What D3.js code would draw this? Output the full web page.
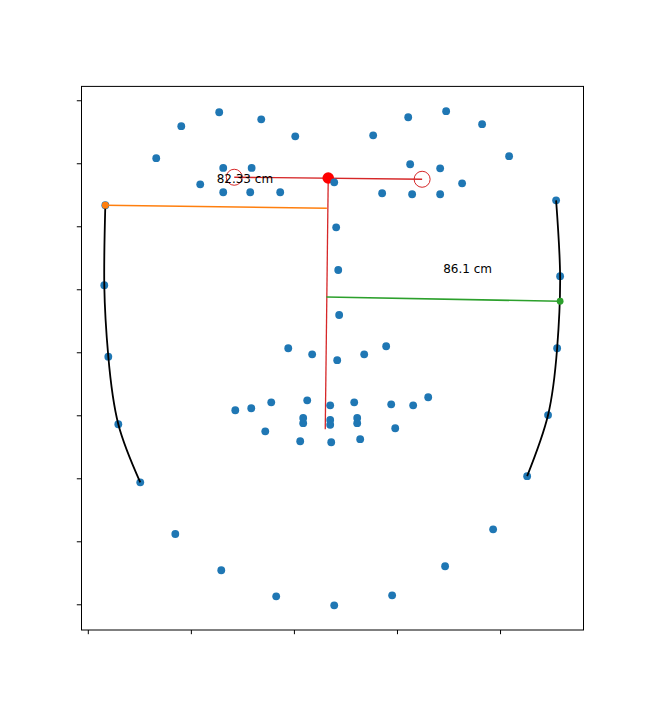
<!DOCTYPE html>
<html>
<head>
<meta charset="utf-8">
<script src="https://cdn.jsdelivr.net/npm/d3@7"></script>
<style>
  body { margin: 0; background: #fff; }
  text { font-family: "DejaVu Sans", sans-serif; }
</style>
</head>
<body>
<div id="d3-container"></div>
<script>
/**
 * DATA
 * face landmarks (68 points)
 * */
const landmarksX = [
  17.0, 16.0, 19.9, 29.6, 50.9, 84.9, 129.5, 182.8, 239.1, 295.3, 346.7, 393.3, 426.3, 446.6, 455.4, 458.3, 454.4,
  66.4, 90.7, 127.5, 168.3, 201.3,
  276.9, 310.9, 347.7, 382.6, 408.8,
  239.1, 241.0, 243.0, 243.9,
  194.5, 217.7, 242.0, 268.2, 289.5,
  109.1, 131.4, 159.0, 186.7, 157.6, 131.4,
  285.6, 312.8, 341.9, 363.2, 341.9, 314.7,
  143.1, 178.0, 212.9, 235.2, 258.5, 294.4, 330.3, 298.3, 264.3, 236.2, 206.1, 172.2,
  158.6, 209.0, 235.2, 261.4, 315.7, 261.4, 235.2, 209.0
];
const landmarksY = [
  316.7, 253.2, 196.5, 142.9, 96.8, 55.8, 27.0, 6.3, -0.8, 7.1, 30.2, 59.5, 101.7, 150.2, 203.2, 260.4, 320.6,
  354.0, 379.4, 390.5, 384.9, 371.4,
  372.2, 386.5, 391.3, 381.0, 355.6,
  334.9, 299.2, 265.3, 229.6,
  203.2, 198.4, 193.7, 198.4, 204.8,
  333.3, 346.3, 346.3, 327.0, 327.0, 327.0,
  326.2, 349.2, 346.0, 334.1, 325.4, 325.4,
  154.0, 160.3, 161.9, 157.9, 160.3, 158.7, 164.3, 139.7, 131.0, 128.6, 129.4, 137.3,
  155.6, 147.9, 146.3, 147.9, 157.9, 143.7, 142.5, 143.7
];

// eye centres and the point between them
const eyeCentres = [[142.1, 338.9], [324.4, 337.3]];
const midPoint = [233.3, 338.3];
const midBottom = [230.4, 138.9];

// width measurements
const orangeLine = [[17.0, 316.7], [232.0, 314.3]];
const greenLine = [[231.5, 243.9], [458.3, 240.5]];

// jaw curves
const leftJaw = [0, 1, 2, 3, 4];
const rightJaw = [16, 15, 14, 13, 12];

const labels = [
  { text: "82.33 cm", x: 125.0, y: 334.1 },
  { text: "86.1 cm", x: 344.8, y: 263.3 }
];

const xTicks = [0, 100, 200, 300, 400];
const yTicks = [0, 50, 100, 150, 200, 250, 300, 350, 400];

/**
 * CONSTANTS
 * */
const width = 648, height = 720;
const margin = { top: 86.4, bottom: 90, left: 81, right: 65 };

const x = d3.scaleLinear().domain([-6.6, 480.5]).range([margin.left, width - margin.right]);
const y = d3.scaleLinear().domain([-20.4, 411.0]).range([height - margin.bottom, margin.top]);

const svg = d3.select("#d3-container")
  .append("svg")
  .attr("width", width)
  .attr("height", height);

// ticks (no labels)
svg.append("g")
  .attr("transform", `translate(0,${height - margin.bottom})`)
  .call(d3.axisBottom(x).tickValues(xTicks).tickFormat("").tickSize(4.2).tickSizeOuter(0))
  .call(g => g.select(".domain").remove())
  .selectAll("line").attr("stroke", "#000").attr("stroke-width", 1);

svg.append("g")
  .attr("transform", `translate(${margin.left},0)`)
  .call(d3.axisLeft(y).tickValues(yTicks).tickFormat("").tickSize(4.2).tickSizeOuter(0))
  .call(g => g.select(".domain").remove())
  .selectAll("line").attr("stroke", "#000").attr("stroke-width", 1);

const plot = svg.append("g");

// red lines through the eyes and down the nose
plot.append("line")
  .attr("x1", x(eyeCentres[0][0])).attr("y1", y(eyeCentres[0][1]))
  .attr("x2", x(eyeCentres[1][0])).attr("y2", y(eyeCentres[1][1]))
  .attr("stroke", "#d62728").attr("stroke-width", 1.3);
plot.append("line")
  .attr("x1", x(midPoint[0])).attr("y1", y(midPoint[1]))
  .attr("x2", x(midBottom[0])).attr("y2", y(midBottom[1]))
  .attr("stroke", "#d62728").attr("stroke-width", 1.3);

plot.selectAll("circle.eye")
  .data(eyeCentres)
  .join("circle")
  .attr("class", "eye")
  .attr("cx", d => x(d[0]))
  .attr("cy", d => y(d[1]))
  .attr("r", 8)
  .attr("fill", "none")
  .attr("stroke", "#d62728")
  .attr("stroke-width", 1);

plot.append("circle")
  .attr("cx", x(midPoint[0])).attr("cy", y(midPoint[1]))
  .attr("r", 5.8)
  .attr("fill", "#ff0000");

// landmarks
plot.selectAll("circle.lm")
  .data(d3.range(landmarksX.length))
  .join("circle")
  .attr("class", "lm")
  .attr("cx", i => x(landmarksX[i]))
  .attr("cy", i => y(landmarksY[i]))
  .attr("r", 3.9)
  .attr("fill", "#1f77b4");

const line = d3.line().x(d => x(d[0])).y(d => y(d[1]));

// orange + green measures
plot.append("path").attr("d", line(orangeLine))
  .attr("fill", "none").attr("stroke", "#ff7f0e").attr("stroke-width", 1.6);
plot.append("path").attr("d", line(greenLine))
  .attr("fill", "none").attr("stroke", "#2ca02c").attr("stroke-width", 1.6);

// jaw curves
const curve = d3.line().x(d => x(d[0])).y(d => y(d[1])).curve(d3.curveNatural);
[leftJaw, rightJaw].forEach(idx => {
  plot.append("path")
    .attr("d", curve(idx.map(i => [landmarksX[i], landmarksY[i]])))
    .attr("fill", "none")
    .attr("stroke", "#000")
    .attr("stroke-width", 1.8);
});

plot.append("circle")
  .attr("cx", x(orangeLine[0][0])).attr("cy", y(orangeLine[0][1]))
  .attr("r", 3.4).attr("fill", "#ff7f0e");
plot.append("circle")
  .attr("cx", x(greenLine[1][0])).attr("cy", y(greenLine[1][1]))
  .attr("r", 3.4).attr("fill", "#2ca02c");

// labels
plot.selectAll("text.lbl")
  .data(labels)
  .join("text")
  .attr("class", "lbl")
  .attr("x", d => x(d.x))
  .attr("y", d => y(d.y))
  .attr("font-size", 12)
  .attr("fill", "#000")
  .text(d => d.text);

// frame
svg.append("rect")
  .attr("x", margin.left + 0.5)
  .attr("y", margin.top)
  .attr("width", width - margin.left - margin.right)
  .attr("height", height - margin.top - margin.bottom)
  .attr("fill", "none")
  .attr("stroke", "#000")
  .attr("stroke-width", 1);
</script>
</body>
</html>
